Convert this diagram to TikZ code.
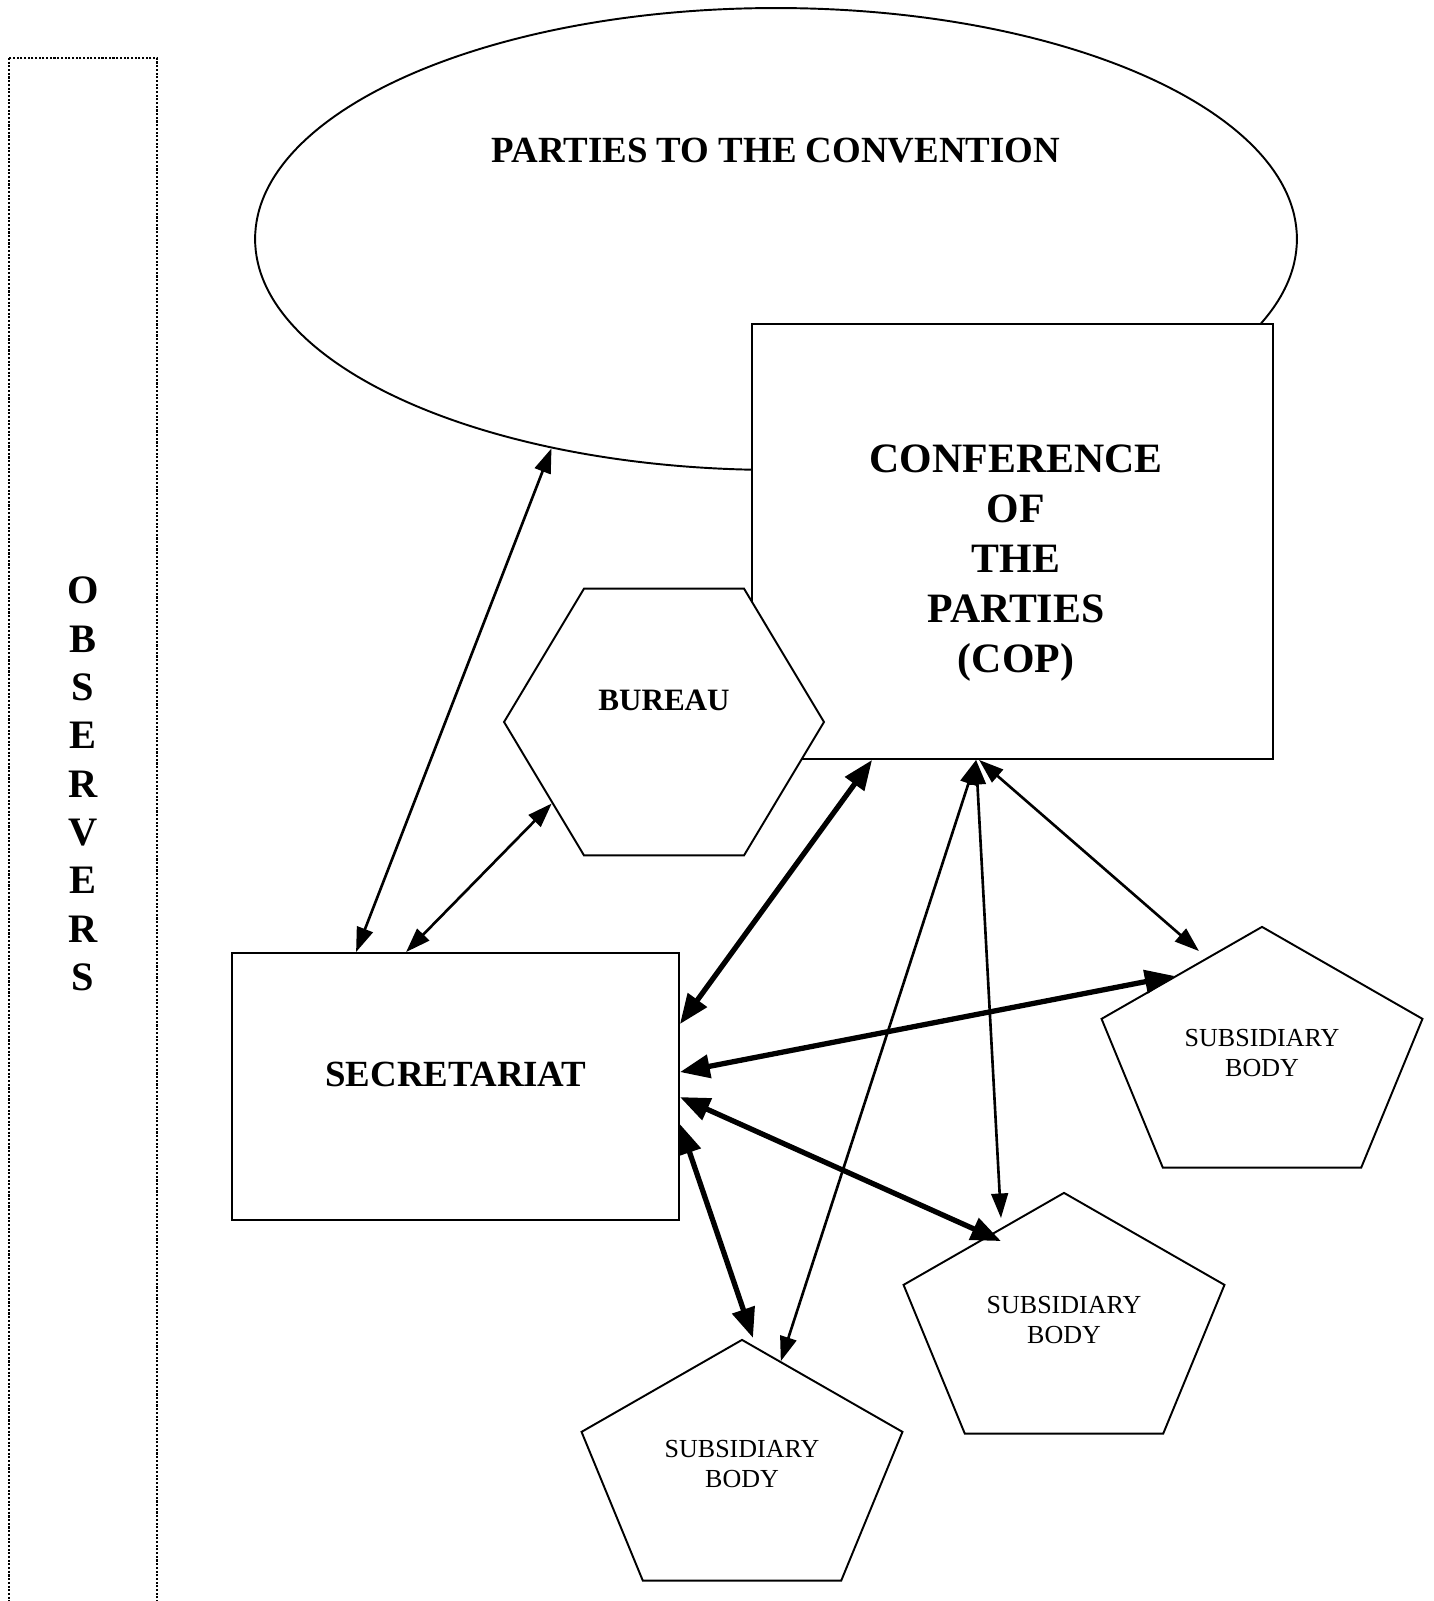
\documentclass[tikz,border=0pt]{standalone}
\usepackage{fontspec}
\setmainfont{Liberation Serif}
\usetikzlibrary{shapes.geometric,arrows.meta,calc}

\begin{document}
\begin{tikzpicture}
[x = 0.02cm, y = -0.02cm,
 every node/.style = {inner sep = 0pt},
 box/.style   = {draw, fill = white, line width = 1.1pt, rectangle},
 hexa/.style  = {draw, fill = white, line width = 1.1pt, regular polygon,
                 regular polygon sides = 6, minimum size = 6.4cm, yscale = 0.963},
 penta/.style = {draw, fill = white, line width = 1.1pt, regular polygon,
                 regular polygon sides = 5, minimum size = 6.75cm, yscale = 0.789},
 bodytext/.style = {align = center, font = \fontsize{14.8}{17.3}\selectfont},
 link/.style  = {{Triangle[length=14pt,width=9.5pt]}-{Triangle[length=14pt,width=9.5pt]},
                 line width = 1.5pt},
 heavy link/.style = {{Triangle[length=17pt,width=13pt]}-{Triangle[length=17pt,width=13pt]},
                 line width = 3pt},
]
\clip (0,0) rectangle (1433,1601);

%%%%%%%%%%% OBSERVERS
\draw[line width = 1.7pt, dash pattern = on 1.2pt off 0.9pt] (9,58) rectangle (157,1660);
\node[align = center, font = \fontsize{23}{27.5}\bfseries\selectfont] (obs) at (83,784)
  {O\\B\\S\\E\\R\\V\\E\\R\\S};

%%%%%%%%%%% PARTIES
\node[draw, ellipse, line width = 1.1pt, minimum width = 20.84cm, minimum height = 9.24cm]
  (parties) at (776,239) {};
\node[font = \fontsize{21}{25}\bfseries\selectfont] (partiestext) at (776,151)
  {PARTIES TO THE CONVENTION};

%%%%%%%%%%% COP
\node[box, minimum width = 10.42cm, minimum height = 8.7cm] (cop) at (1012.5,541.5) {};
\node[align = center, font = \fontsize{23.8}{28.4}\bfseries\selectfont] (coptext) at (1016,563)
  {CONFERENCE\\OF\\THE\\PARTIES\\(COP)};

%%%%%%%%%%% BUREAU
\node[hexa] (bureau) at (664,722) {};
\node[font = \fontsize{17.7}{21}\bfseries\selectfont] (bureautext) at (664,700) {BUREAU};

%%%%%%%%%%% SECRETARIAT
\node[box, minimum width = 8.94cm, minimum height = 5.34cm] (secr) at (455.5,1086.5) {};
\node[font = \fontsize{21}{25}\bfseries\selectfont] (secrtext) at (456,1074) {SECRETARIAT};

%%%%%%%%%%% SUBSIDIARY BODIES
\node[penta] (sub1) at (1262,1060) {};
\node[penta] (sub2) at (1064,1326) {};
\node[penta] (sub3) at (742,1473) {};
\node[bodytext] (sub1text) at ($(sub1.center)+(0,-7)$) {SUBSIDIARY\\BODY};
\node[bodytext] (sub2text) at ($(sub2.center)+(0,-6)$) {SUBSIDIARY\\BODY};
\node[bodytext] (sub3text) at ($(sub3.center)+(0,-9)$) {SUBSIDIARY\\BODY};

%%%%%%%%%%% CONNECTIONS
\draw[link] (parties.223) -- ($(secr.north west)+(125,0)$);
\draw[link] (bureau.217) -- ($(secr.north west)+(175,0)$);
\draw[heavy link] ($(cop.south west)+(121,0)$) -- ($(secr.north east)+(0,72)$);
\draw[heavy link] ($(sub1.corner 1)!0.54!(sub1.corner 2)$) -- ($(secr.north east)+(0,120)$);
\draw[link] ($(cop.south west)+(228,0)$) -- ($(sub1.corner 1)!0.39!(sub1.corner 2)+(0,-11)$);
\draw[link] ($(cop.south west)+(225,0)$) -- ($(sub3.corner 1)!0.24!(sub3.corner 5)$);
\draw[link] ($(cop.south west)+(225,0)$) -- ($(sub2.corner 1)!0.39!(sub2.corner 2)+(0,-10)$);
\draw[heavy link] ($(secr.north east)+(0,145)$) -- ($(sub2.corner 1)!0.39!(sub2.corner 2)+(0,13)$);
\draw[heavy link] ($(secr.north east)+(0,172)$) -- ($(sub3.corner 1)+(11,-1)$);

\end{tikzpicture}
\end{document}
